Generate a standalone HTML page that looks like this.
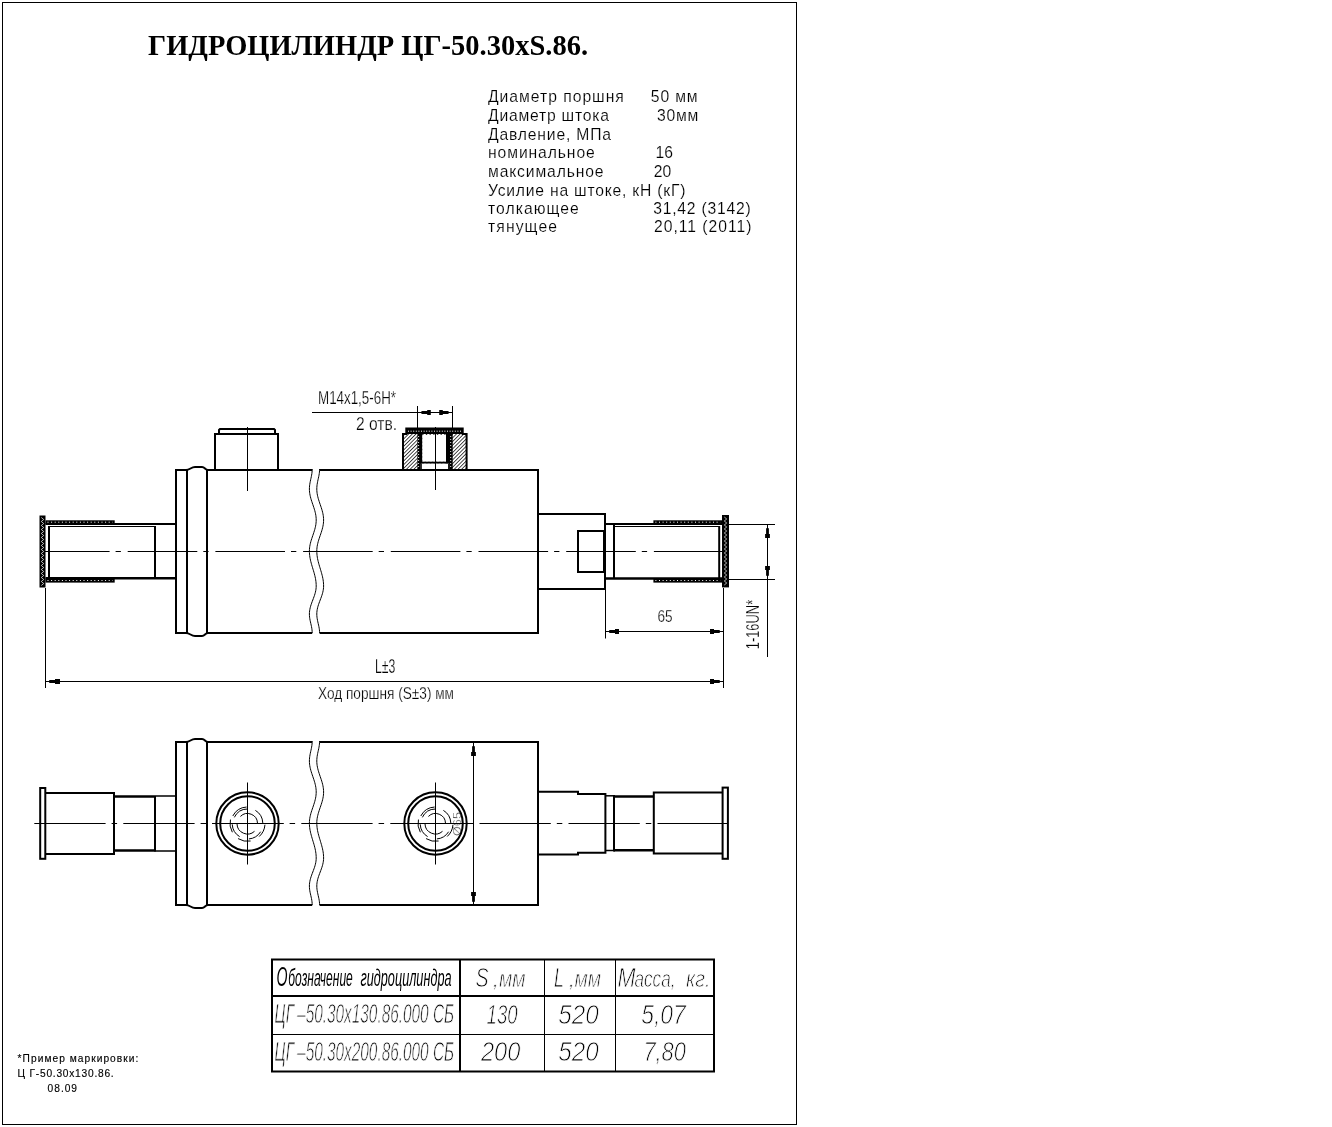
<!DOCTYPE html>
<html><head><meta charset="utf-8"><title>ГИДРОЦИЛИНДР ЦГ-50.30xS.86</title>
<style>
html,body{margin:0;padding:0;background:#fff;}
body{width:1332px;height:1127px;overflow:hidden;}
svg{display:block;will-change:transform;}
text{stroke:none;fill:#000;}
.ti{font-family:"Liberation Serif",serif;font-weight:bold;}
.sp{font-family:"Liberation Sans",sans-serif;stroke:#fff;stroke-width:0.15px;}
.fn{font-family:"Liberation Sans",sans-serif;stroke:#000;stroke-width:0.15px;}
.g{font-family:"Liberation Sans",sans-serif;fill:#000;stroke:#fff;stroke-width:0.25px;}
.it{font-family:"Liberation Sans",sans-serif;font-style:italic;fill:#000;stroke:#fff;stroke-width:0.9px;}
.ith{font-family:"Liberation Sans",sans-serif;font-style:italic;fill:#000;}
</style></head>
<body>
<svg width="1332" height="1127" viewBox="0 0 1332 1127" stroke="#000" fill="none" stroke-linecap="butt">
<defs>
<pattern id="hatch" width="2.6" height="2.6" patternUnits="userSpaceOnUse" patternTransform="rotate(45)">
<rect width="2.6" height="2.6" fill="#fff" stroke="none"/><line x1="0" y1="0" x2="0" y2="2.6" stroke="#000" stroke-width="1.4"/>
</pattern>
</defs>
<rect x="2.5" y="2.5" width="794" height="1122" stroke-width="1" fill="none" />
<text x="148" y="54.7" font-size="29" class="ti" textLength="440" lengthAdjust="spacingAndGlyphs" >ГИДРОЦИЛИНДР ЦГ-50.30xS.86.</text>
<text x="488" y="102.3" font-size="15.7" class="sp" textLength="135.8" lengthAdjust="spacing" >Диаметр поршня</text>
<text x="488" y="121.3" font-size="15.7" class="sp" textLength="121" lengthAdjust="spacing" >Диаметр штока</text>
<text x="488" y="140.2" font-size="15.7" class="sp" textLength="123" lengthAdjust="spacing" >Давление, МПа</text>
<text x="488" y="158.3" font-size="15.7" class="sp" textLength="106.8" lengthAdjust="spacing" >номинальное</text>
<text x="488" y="177.3" font-size="15.7" class="sp" textLength="115.5" lengthAdjust="spacing" >максимальное</text>
<text x="488" y="195.7" font-size="15.7" class="sp" textLength="197.4" lengthAdjust="spacing" >Усилие на штоке, кН (кГ)</text>
<text x="488" y="214.0" font-size="15.7" class="sp" textLength="90.7" lengthAdjust="spacing" >толкающее</text>
<text x="488" y="231.9" font-size="15.7" class="sp" textLength="69" lengthAdjust="spacing" >тянущее</text>
<text x="650.8" y="102.3" font-size="15.7" class="sp" textLength="46.8" lengthAdjust="spacing" >50 мм</text>
<text x="657" y="121.3" font-size="15.7" class="sp" textLength="41.3" lengthAdjust="spacing" >30мм</text>
<text x="655.5" y="158.3" font-size="15.7" class="sp" >16</text>
<text x="653.8" y="177.3" font-size="15.7" class="sp" >20</text>
<text x="653.2" y="214.0" font-size="15.7" class="sp" textLength="97.5" lengthAdjust="spacing" >31,42 (3142)</text>
<text x="654" y="231.9" font-size="15.7" class="sp" textLength="97.5" lengthAdjust="spacing" >20,11 (2011)</text>
<line x1="40" y1="551.5" x2="724" y2="551.5" stroke-width="1" stroke-dasharray="69.6 6 5.3 6.8"/>
<rect x="39.5" y="515.5" width="6" height="72" stroke-width="0" fill="#000" stroke="none"/>
<path d="M41.3,517.5 L43.7,519.5 L41.3,521.5 L43.7,523.5 L41.3,525.5 L43.7,527.5 L41.3,529.5 L43.7,531.5 L41.3,533.5 L43.7,535.5 L41.3,537.5 L43.7,539.5 L41.3,541.5 L43.7,543.5 L41.3,545.5 L43.7,547.5 L41.3,549.5 L43.7,551.5 L41.3,553.5 L43.7,555.5 L41.3,557.5 L43.7,559.5 L41.3,561.5 L43.7,563.5 L41.3,565.5 L43.7,567.5 L41.3,569.5 L43.7,571.5 L41.3,573.5 L43.7,575.5 L41.3,577.5 L43.7,579.5 L41.3,581.5 L43.7,583.5 L41.3,585.5" stroke-width="0.7" fill="none" stroke="#fff"/>
<rect x="722" y="515" width="7" height="72.4" stroke-width="0" fill="#000" stroke="none"/>
<path d="M724.3,517.0 L726.7,519.0 L724.3,521.0 L726.7,523.0 L724.3,525.0 L726.7,527.0 L724.3,529.0 L726.7,531.0 L724.3,533.0 L726.7,535.0 L724.3,537.0 L726.7,539.0 L724.3,541.0 L726.7,543.0 L724.3,545.0 L726.7,547.0 L724.3,549.0 L726.7,551.0 L724.3,553.0 L726.7,555.0 L724.3,557.0 L726.7,559.0 L724.3,561.0 L726.7,563.0 L724.3,565.0 L726.7,567.0 L724.3,569.0 L726.7,571.0 L724.3,573.0 L726.7,575.0 L724.3,577.0 L726.7,579.0 L724.3,581.0 L726.7,583.0 L724.3,585.0" stroke-width="0.7" fill="none" stroke="#fff"/>
<rect x="45.5" y="520.3" width="69.2" height="3.8" stroke-width="0" fill="#000" stroke="none"/>
<rect x="45.5" y="578.5" width="69.2" height="4.1" stroke-width="0" fill="#000" stroke="none"/>
<line x1="47.5" y1="522.2" x2="112.7" y2="522.2" stroke-width="1" stroke="#fff" stroke-dasharray="1 2.6"/>
<line x1="47.5" y1="580.5" x2="112.7" y2="580.5" stroke-width="1" stroke="#fff" stroke-dasharray="1 2.6"/>
<rect x="653.4" y="520.3" width="68.89999999999998" height="3.8" stroke-width="0" fill="#000" stroke="none"/>
<rect x="653.4" y="578.5" width="68.89999999999998" height="4.1" stroke-width="0" fill="#000" stroke="none"/>
<line x1="655.4" y1="522.2" x2="720.3" y2="522.2" stroke-width="1" stroke="#fff" stroke-dasharray="1 2.6"/>
<line x1="655.4" y1="580.5" x2="720.3" y2="580.5" stroke-width="1" stroke="#fff" stroke-dasharray="1 2.6"/>
<line x1="45.5" y1="524" x2="176" y2="524" stroke-width="2" />
<line x1="45.5" y1="578.3" x2="176" y2="578.3" stroke-width="2.4" />
<line x1="48.6" y1="526.5" x2="155" y2="526.5" stroke-width="1" />
<line x1="49" y1="526" x2="49" y2="578" stroke-width="2" />
<line x1="155" y1="526" x2="155" y2="578" stroke-width="2" />
<line x1="605" y1="524" x2="722.3" y2="524" stroke-width="2" />
<line x1="605" y1="578.5" x2="722.3" y2="578.5" stroke-width="2.4" />
<line x1="614" y1="526.5" x2="719.2" y2="526.5" stroke-width="1" />
<line x1="614" y1="525" x2="614" y2="578" stroke-width="2" />
<line x1="719.2" y1="526" x2="719.2" y2="578" stroke-width="2" />
<rect x="538" y="514" width="67" height="75" stroke-width="2" fill="none" />
<rect x="578" y="531" width="26" height="41" stroke-width="2" fill="none" />
<line x1="176" y1="469" x2="176" y2="634" stroke-width="2" />
<line x1="187" y1="469" x2="187" y2="634" stroke-width="2" />
<line x1="207" y1="469" x2="207" y2="634" stroke-width="2" />
<line x1="175" y1="470" x2="187" y2="470" stroke-width="2" />
<line x1="175" y1="633" x2="187" y2="633" stroke-width="2" />
<path d="M186,470 C190,470 191,467 195,467 L202,467 C205,467 205,470 208,470" stroke-width="2" fill="none" />
<path d="M186,633 C190,633 191,636 195,636 L202,636 C205,636 205,633 208,633" stroke-width="2" fill="none" />
<line x1="207" y1="470" x2="312.2" y2="470" stroke-width="2" />
<line x1="319.6" y1="470" x2="539" y2="470" stroke-width="2" />
<line x1="207" y1="633" x2="312.2" y2="633" stroke-width="2" />
<line x1="319.6" y1="633" x2="539" y2="633" stroke-width="2" />
<line x1="538" y1="469" x2="538" y2="634" stroke-width="2" />
<path d="M312.20,469.00 L312.16,470.54 L312.04,472.08 L311.85,473.62 L311.60,475.15 L311.30,476.69 L310.97,478.23 L310.63,479.77 L310.30,481.31 L310.00,482.85 L309.75,484.38 L309.56,485.92 L309.44,487.46 L309.40,489.00 L309.44,490.55 L309.57,492.10 L309.77,493.65 L310.05,495.20 L310.40,496.75 L310.80,498.30 L311.26,499.85 L311.75,501.40 L312.27,502.95 L312.80,504.50 L313.33,506.05 L313.85,507.60 L314.34,509.15 L314.80,510.70 L315.20,512.25 L315.55,513.80 L315.83,515.35 L316.03,516.90 L316.16,518.45 L316.20,520.00 L316.16,521.55 L316.03,523.10 L315.83,524.65 L315.55,526.20 L315.20,527.75 L314.80,529.30 L314.34,530.85 L313.85,532.40 L313.33,533.95 L312.80,535.50 L312.27,537.05 L311.75,538.60 L311.26,540.15 L310.80,541.70 L310.40,543.25 L310.05,544.80 L309.77,546.35 L309.57,547.90 L309.44,549.45 L309.40,551.00 L309.43,552.52 L309.53,554.04 L309.68,555.57 L309.89,557.09 L310.16,558.61 L310.48,560.13 L310.84,561.65 L311.24,563.17 L311.66,564.70 L312.11,566.22 L312.57,567.74 L313.03,569.26 L313.49,570.78 L313.94,572.30 L314.36,573.83 L314.76,575.35 L315.12,576.87 L315.44,578.39 L315.71,579.91 L315.92,581.43 L316.07,582.96 L316.17,584.48 L316.20,586.00 L316.15,587.56 L315.99,589.11 L315.74,590.67 L315.40,592.22 L314.99,593.78 L314.50,595.33 L313.96,596.89 L313.39,598.44 L312.80,600.00 L312.21,601.56 L311.64,603.11 L311.10,604.67 L310.61,606.22 L310.20,607.78 L309.86,609.33 L309.61,610.89 L309.45,612.44 L309.40,614.00 L309.45,615.58 L309.59,617.17 L309.81,618.75 L310.10,620.33 L310.44,621.92 L310.80,623.50 L311.16,625.08 L311.50,626.67 L311.79,628.25 L312.01,629.83 L312.15,631.42 L312.20,633.00" stroke-width="1" fill="none" />
<path d="M319.60,469.00 L319.56,470.54 L319.44,472.08 L319.25,473.62 L319.00,475.15 L318.70,476.69 L318.37,478.23 L318.03,479.77 L317.70,481.31 L317.40,482.85 L317.15,484.38 L316.96,485.92 L316.84,487.46 L316.80,489.00 L316.84,490.55 L316.97,492.10 L317.17,493.65 L317.45,495.20 L317.80,496.75 L318.20,498.30 L318.66,499.85 L319.15,501.40 L319.67,502.95 L320.20,504.50 L320.73,506.05 L321.25,507.60 L321.74,509.15 L322.20,510.70 L322.60,512.25 L322.95,513.80 L323.23,515.35 L323.43,516.90 L323.56,518.45 L323.60,520.00 L323.56,521.55 L323.43,523.10 L323.23,524.65 L322.95,526.20 L322.60,527.75 L322.20,529.30 L321.74,530.85 L321.25,532.40 L320.73,533.95 L320.20,535.50 L319.67,537.05 L319.15,538.60 L318.66,540.15 L318.20,541.70 L317.80,543.25 L317.45,544.80 L317.17,546.35 L316.97,547.90 L316.84,549.45 L316.80,551.00 L316.83,552.52 L316.93,554.04 L317.08,555.57 L317.29,557.09 L317.56,558.61 L317.88,560.13 L318.24,561.65 L318.64,563.17 L319.06,564.70 L319.51,566.22 L319.97,567.74 L320.43,569.26 L320.89,570.78 L321.34,572.30 L321.76,573.83 L322.16,575.35 L322.52,576.87 L322.84,578.39 L323.11,579.91 L323.32,581.43 L323.47,582.96 L323.57,584.48 L323.60,586.00 L323.55,587.56 L323.39,589.11 L323.14,590.67 L322.80,592.22 L322.39,593.78 L321.90,595.33 L321.36,596.89 L320.79,598.44 L320.20,600.00 L319.61,601.56 L319.04,603.11 L318.50,604.67 L318.01,606.22 L317.60,607.78 L317.26,609.33 L317.01,610.89 L316.85,612.44 L316.80,614.00 L316.85,615.58 L316.99,617.17 L317.21,618.75 L317.50,620.33 L317.84,621.92 L318.20,623.50 L318.56,625.08 L318.90,626.67 L319.19,628.25 L319.41,629.83 L319.55,631.42 L319.60,633.00" stroke-width="1" fill="none" />
<path d="M215,470 V434 H278 V470" stroke-width="2" fill="none" />
<path d="M219,434 V430 L220,429 H274 L275,430 V434" stroke-width="2" fill="none" />
<line x1="247.5" y1="427" x2="247.5" y2="491" stroke-width="1" />
<path d="M403,469 V434 H406.3 V428.5 H462.7 V434 H466.6 V469" fill="url(#hatch)" stroke="none"/>
<rect x="406.3" y="428.5" width="56.4" height="5.5" stroke-width="0" fill="#000" stroke="none"/>
<line x1="408" y1="431.2" x2="461" y2="431.2" stroke-width="1" stroke="#fff" stroke-dasharray="1 1.6"/>
<rect x="417.4" y="434" width="5" height="35" stroke-width="0" fill="#000" stroke="none"/>
<rect x="446" y="434" width="6.7" height="35" stroke-width="0" fill="#000" stroke="none"/>
<line x1="418.6" y1="436" x2="418.6" y2="468" stroke-width="0.9" stroke="#fff" stroke-dasharray="1 2"/>
<line x1="450.7" y1="436" x2="450.7" y2="468" stroke-width="0.9" stroke="#fff" stroke-dasharray="1 2"/>
<rect x="422.4" y="435" width="23.6" height="26.7" stroke-width="0" fill="#fff" stroke="none"/>
<rect x="420.8" y="461.7" width="28.3" height="2" stroke-width="0" fill="#000" stroke="none"/>
<rect x="420.8" y="463.7" width="28.3" height="5.3" stroke-width="0" fill="#fff" stroke="none"/>
<line x1="421.3" y1="463.7" x2="421.3" y2="469" stroke-width="1" />
<line x1="448.6" y1="463.7" x2="448.6" y2="469" stroke-width="1" />
<path d="M403,470 V434 H406.3 V428.5 H462.7 V434 H466.6 V470" stroke-width="2" fill="none" />
<line x1="435.5" y1="427" x2="435.5" y2="490" stroke-width="1" />
<line x1="312" y1="412.5" x2="453" y2="412.5" stroke-width="1" />
<line x1="417.5" y1="406" x2="417.5" y2="428" stroke-width="1" />
<line x1="452.5" y1="406" x2="452.5" y2="428" stroke-width="1" />
<polygon points="421.20,411.50 422.20,411.10 427.20,411.10 427.20,410.10 430.80,410.10 430.80,414.90 427.20,414.90 427.20,413.90 422.20,413.90 421.20,413.50" fill="#000" stroke="none"/>
<polygon points="448.80,413.50 447.80,413.90 442.80,413.90 442.80,414.90 439.20,414.90 439.20,410.10 442.80,410.10 442.80,411.10 447.80,411.10 448.80,411.50" fill="#000" stroke="none"/>
<text x="318" y="403.6" font-size="18.6" class="g" textLength="78" lengthAdjust="spacingAndGlyphs" >M14x1,5-6H*</text>
<text x="356" y="429.7" font-size="18.6" class="g" textLength="41" lengthAdjust="spacingAndGlyphs" >2 отв.</text>
<line x1="605.5" y1="590" x2="605.5" y2="638.5" stroke-width="1" />
<line x1="723.5" y1="588" x2="723.5" y2="688" stroke-width="1" />
<line x1="605.5" y1="631.5" x2="724" y2="631.5" stroke-width="1" />
<polygon points="609.00,630.50 610.00,630.10 615.00,630.10 615.00,629.10 619.00,629.10 619.00,633.90 615.00,633.90 615.00,632.90 610.00,632.90 609.00,632.50" fill="#000" stroke="none"/>
<polygon points="720.00,632.50 719.00,632.90 714.00,632.90 714.00,633.90 710.00,633.90 710.00,629.10 714.00,629.10 714.00,630.10 719.00,630.10 720.00,630.50" fill="#000" stroke="none"/>
<text x="657.4" y="622.4" font-size="17.4" class="g" textLength="15.1" lengthAdjust="spacingAndGlyphs" >65</text>
<line x1="729" y1="524.5" x2="775" y2="524.5" stroke-width="1" />
<line x1="729" y1="579.5" x2="775" y2="579.5" stroke-width="1" />
<line x1="767.5" y1="524.5" x2="767.5" y2="657" stroke-width="1" />
<polygon points="768.50,528.00 768.90,529.00 768.90,534.00 769.90,534.00 769.90,538.00 765.10,538.00 765.10,534.00 766.10,534.00 766.10,529.00 766.50,528.00" fill="#000" stroke="none"/>
<polygon points="766.50,576.00 766.10,575.00 766.10,570.00 765.10,570.00 765.10,566.00 769.90,566.00 769.90,570.00 768.90,570.00 768.90,575.00 768.50,576.00" fill="#000" stroke="none"/>
<text x="0" y="0" font-size="18.6" class="g" textLength="49.5" lengthAdjust="spacingAndGlyphs" transform="translate(759,649.3) rotate(-90)">1-16UN*</text>
<line x1="45.5" y1="588" x2="45.5" y2="688" stroke-width="1" />
<line x1="45.5" y1="681.5" x2="724" y2="681.5" stroke-width="1" />
<polygon points="49.00,680.50 50.00,680.10 55.00,680.10 55.00,679.10 60.00,679.10 60.00,683.90 55.00,683.90 55.00,682.90 50.00,682.90 49.00,682.50" fill="#000" stroke="none"/>
<polygon points="720.00,682.50 719.00,682.90 714.00,682.90 714.00,683.90 710.00,683.90 710.00,679.10 714.00,679.10 714.00,680.10 719.00,680.10 720.00,680.50" fill="#000" stroke="none"/>
<text x="375" y="672.7" font-size="19.6" class="g" textLength="20.3" lengthAdjust="spacingAndGlyphs" >L±3</text>
<text x="318" y="699" font-size="16.7" class="g" textLength="136" lengthAdjust="spacingAndGlyphs" >Ход поршня (S±3) мм</text>
<line x1="34.3" y1="823.5" x2="473.5" y2="823.5" stroke-width="1" stroke-dasharray="71.3 6 5.5 6.2"/>
<line x1="479.5" y1="823.5" x2="728" y2="823.5" stroke-width="1" stroke-dasharray="71.3 6 5.5 6.2" stroke-dashoffset="0"/>
<line x1="176" y1="741" x2="176" y2="906" stroke-width="2" />
<line x1="187" y1="741" x2="187" y2="906" stroke-width="2" />
<line x1="207" y1="741" x2="207" y2="906" stroke-width="2" />
<line x1="175" y1="742" x2="187" y2="742" stroke-width="2" />
<line x1="175" y1="905" x2="187" y2="905" stroke-width="2" />
<path d="M186,742 C190,742 191,739 195,739 L202,739 C205,739 205,742 208,742" stroke-width="2" fill="none" />
<path d="M186,905 C190,905 191,908 195,908 L202,908 C205,908 205,905 208,905" stroke-width="2" fill="none" />
<line x1="207" y1="742" x2="312.2" y2="742" stroke-width="2" />
<line x1="319.6" y1="742" x2="539" y2="742" stroke-width="2" />
<line x1="207" y1="905" x2="312.2" y2="905" stroke-width="2" />
<line x1="319.6" y1="905" x2="539" y2="905" stroke-width="2" />
<line x1="538" y1="741" x2="538" y2="906" stroke-width="2" />
<path d="M312.20,741.00 L312.16,742.54 L312.04,744.08 L311.85,745.62 L311.60,747.15 L311.30,748.69 L310.97,750.23 L310.63,751.77 L310.30,753.31 L310.00,754.85 L309.75,756.38 L309.56,757.92 L309.44,759.46 L309.40,761.00 L309.44,762.55 L309.57,764.10 L309.77,765.65 L310.05,767.20 L310.40,768.75 L310.80,770.30 L311.26,771.85 L311.75,773.40 L312.27,774.95 L312.80,776.50 L313.33,778.05 L313.85,779.60 L314.34,781.15 L314.80,782.70 L315.20,784.25 L315.55,785.80 L315.83,787.35 L316.03,788.90 L316.16,790.45 L316.20,792.00 L316.16,793.55 L316.03,795.10 L315.83,796.65 L315.55,798.20 L315.20,799.75 L314.80,801.30 L314.34,802.85 L313.85,804.40 L313.33,805.95 L312.80,807.50 L312.27,809.05 L311.75,810.60 L311.26,812.15 L310.80,813.70 L310.40,815.25 L310.05,816.80 L309.77,818.35 L309.57,819.90 L309.44,821.45 L309.40,823.00 L309.43,824.52 L309.53,826.04 L309.68,827.57 L309.89,829.09 L310.16,830.61 L310.48,832.13 L310.84,833.65 L311.24,835.17 L311.66,836.70 L312.11,838.22 L312.57,839.74 L313.03,841.26 L313.49,842.78 L313.94,844.30 L314.36,845.83 L314.76,847.35 L315.12,848.87 L315.44,850.39 L315.71,851.91 L315.92,853.43 L316.07,854.96 L316.17,856.48 L316.20,858.00 L316.15,859.56 L315.99,861.11 L315.74,862.67 L315.40,864.22 L314.99,865.78 L314.50,867.33 L313.96,868.89 L313.39,870.44 L312.80,872.00 L312.21,873.56 L311.64,875.11 L311.10,876.67 L310.61,878.22 L310.20,879.78 L309.86,881.33 L309.61,882.89 L309.45,884.44 L309.40,886.00 L309.45,887.58 L309.59,889.17 L309.81,890.75 L310.10,892.33 L310.44,893.92 L310.80,895.50 L311.16,897.08 L311.50,898.67 L311.79,900.25 L312.01,901.83 L312.15,903.42 L312.20,905.00" stroke-width="1" fill="none" />
<path d="M319.60,741.00 L319.56,742.54 L319.44,744.08 L319.25,745.62 L319.00,747.15 L318.70,748.69 L318.37,750.23 L318.03,751.77 L317.70,753.31 L317.40,754.85 L317.15,756.38 L316.96,757.92 L316.84,759.46 L316.80,761.00 L316.84,762.55 L316.97,764.10 L317.17,765.65 L317.45,767.20 L317.80,768.75 L318.20,770.30 L318.66,771.85 L319.15,773.40 L319.67,774.95 L320.20,776.50 L320.73,778.05 L321.25,779.60 L321.74,781.15 L322.20,782.70 L322.60,784.25 L322.95,785.80 L323.23,787.35 L323.43,788.90 L323.56,790.45 L323.60,792.00 L323.56,793.55 L323.43,795.10 L323.23,796.65 L322.95,798.20 L322.60,799.75 L322.20,801.30 L321.74,802.85 L321.25,804.40 L320.73,805.95 L320.20,807.50 L319.67,809.05 L319.15,810.60 L318.66,812.15 L318.20,813.70 L317.80,815.25 L317.45,816.80 L317.17,818.35 L316.97,819.90 L316.84,821.45 L316.80,823.00 L316.83,824.52 L316.93,826.04 L317.08,827.57 L317.29,829.09 L317.56,830.61 L317.88,832.13 L318.24,833.65 L318.64,835.17 L319.06,836.70 L319.51,838.22 L319.97,839.74 L320.43,841.26 L320.89,842.78 L321.34,844.30 L321.76,845.83 L322.16,847.35 L322.52,848.87 L322.84,850.39 L323.11,851.91 L323.32,853.43 L323.47,854.96 L323.57,856.48 L323.60,858.00 L323.55,859.56 L323.39,861.11 L323.14,862.67 L322.80,864.22 L322.39,865.78 L321.90,867.33 L321.36,868.89 L320.79,870.44 L320.20,872.00 L319.61,873.56 L319.04,875.11 L318.50,876.67 L318.01,878.22 L317.60,879.78 L317.26,881.33 L317.01,882.89 L316.85,884.44 L316.80,886.00 L316.85,887.58 L316.99,889.17 L317.21,890.75 L317.50,892.33 L317.84,893.92 L318.20,895.50 L318.56,897.08 L318.90,898.67 L319.19,900.25 L319.41,901.83 L319.55,903.42 L319.60,905.00" stroke-width="1" fill="none" />
<rect x="40.2" y="788" width="5.1" height="70.8" stroke-width="2" fill="none" />
<path d="M45.3,793 H114 V854 H45.3" stroke-width="2" fill="none" />
<line x1="114" y1="796.5" x2="155" y2="796.5" stroke-width="2.5" />
<line x1="114" y1="850.4" x2="155" y2="850.4" stroke-width="2.5" />
<line x1="155" y1="796" x2="176" y2="796" stroke-width="1.5" />
<line x1="155" y1="851" x2="176" y2="851" stroke-width="1.5" />
<line x1="155" y1="796" x2="155" y2="851.5" stroke-width="2" />
<path d="M538,791.8 H578 V794 H605.4 V852.8 H578 V854.4 H538" stroke-width="2" fill="none" />
<line x1="605.4" y1="795.8" x2="614" y2="795.8" stroke-width="1.5" />
<line x1="605.4" y1="850.5" x2="614" y2="850.5" stroke-width="1.5" />
<line x1="614" y1="795" x2="614" y2="851.5" stroke-width="2" />
<line x1="614" y1="796.5" x2="653.8" y2="796.5" stroke-width="2.5" />
<line x1="614" y1="850.2" x2="653.8" y2="850.2" stroke-width="2.5" />
<path d="M653.8,792.6 H722.6 M653.8,853.6 H722.6 M653.8,791.6 V854.6" stroke-width="2" fill="none" />
<rect x="722.6" y="787.6" width="5.3" height="71.2" stroke-width="2" fill="none" />
<text x="0" y="0" font-size="11.5" class="g" textLength="24" lengthAdjust="spacingAndGlyphs" transform="translate(460.5,836) rotate(-90)" style="fill:#444">Ø65</text>
<circle cx="247.5" cy="823.5" r="31.2" stroke-width="2" fill="none"/>
<circle cx="247.5" cy="823.5" r="27.3" stroke-width="2" fill="none"/>
<line x1="247.5" y1="782.5" x2="247.5" y2="864.5" stroke-width="1" />
<line x1="212.0" y1="823.5" x2="283.5" y2="823.5" stroke-width="1" />
<path d="M240.43,816.43 A10,10 0 0 1 257.49,823.15 M254.53,831.30 A10.5,10.5 0 0 1 237.01,823.87 M232.34,832.25 A17.5,17.5 0 0 1 230.45,819.56 M264.96,824.72 A17.5,17.5 0 0 1 259.21,836.51 M250.59,841.03 A17.8,17.8 0 0 1 238.07,838.60 M232.80,816.01 A16.5,16.5 0 0 1 246.64,807.02 M239.62,836.61 A15.3,15.3 0 0 1 232.22,824.30 M255.38,810.39 A15.3,15.3 0 0 1 262.79,822.97 M260.64,831.71 A15.5,15.5 0 0 1 248.85,838.94 M234.36,817.37 A14.5,14.5 0 0 1 247.50,809.00" stroke-width="1" fill="none" />
<circle cx="435.5" cy="823.5" r="31.2" stroke-width="2" fill="none"/>
<circle cx="435.5" cy="823.5" r="27.3" stroke-width="2" fill="none"/>
<line x1="435.5" y1="782.5" x2="435.5" y2="864.5" stroke-width="1" />
<line x1="400.0" y1="823.5" x2="471.5" y2="823.5" stroke-width="1" />
<path d="M428.43,816.43 A10,10 0 0 1 445.49,823.15 M442.53,831.30 A10.5,10.5 0 0 1 425.01,823.87 M420.34,832.25 A17.5,17.5 0 0 1 418.45,819.56 M452.96,824.72 A17.5,17.5 0 0 1 447.21,836.51 M438.59,841.03 A17.8,17.8 0 0 1 426.07,838.60 M420.80,816.01 A16.5,16.5 0 0 1 434.64,807.02 M427.62,836.61 A15.3,15.3 0 0 1 420.22,824.30 M443.38,810.39 A15.3,15.3 0 0 1 450.79,822.97 M448.64,831.71 A15.5,15.5 0 0 1 436.85,838.94 M422.36,817.37 A14.5,14.5 0 0 1 435.50,809.00" stroke-width="1" fill="none" />
<line x1="473.5" y1="742" x2="473.5" y2="905" stroke-width="1" />
<polygon points="474.50,746.00 474.90,747.00 474.90,752.00 475.90,752.00 475.90,756.00 471.10,756.00 471.10,752.00 472.10,752.00 472.10,747.00 472.50,746.00" fill="#000" stroke="none"/>
<polygon points="472.50,902.00 472.10,901.00 472.10,896.00 471.10,896.00 471.10,892.00 475.90,892.00 475.90,896.00 474.90,896.00 474.90,901.00 474.50,902.00" fill="#000" stroke="none"/>
<rect x="272" y="959.5" width="442" height="112" stroke-width="2" fill="none" />
<line x1="272" y1="996" x2="714" y2="996" stroke-width="2" />
<line x1="272" y1="1034.5" x2="714" y2="1034.5" stroke-width="1" />
<line x1="460" y1="959.5" x2="460" y2="1071.5" stroke-width="2" />
<line x1="544.5" y1="959.5" x2="544.5" y2="1071.5" stroke-width="1" />
<line x1="615.5" y1="959.5" x2="615.5" y2="1071.5" stroke-width="1" />
<text x="276.5" y="986.4" font-size="28" class="ith" textLength="11" lengthAdjust="spacingAndGlyphs" >О</text>
<text x="288.3" y="986.4" font-size="24.5" class="ith" textLength="64.5" lengthAdjust="spacingAndGlyphs" >бозначение</text>
<text x="360.5" y="986.4" font-size="24.5" class="ith" textLength="91" lengthAdjust="spacingAndGlyphs" >гидроцилиндра</text>
<text x="475.5" y="986.8" font-size="28" class="it" textLength="13" lengthAdjust="spacingAndGlyphs" >S</text>
<text x="492.5" y="986.8" font-size="24.5" class="it" >,</text>
<text x="499" y="986.8" font-size="24.5" class="it" textLength="26.5" lengthAdjust="spacingAndGlyphs" >мм</text>
<text x="554" y="986.8" font-size="28" class="it" textLength="10" lengthAdjust="spacingAndGlyphs" >L</text>
<text x="568.5" y="986.8" font-size="24.5" class="it" >,</text>
<text x="574.5" y="986.8" font-size="24.5" class="it" textLength="26.5" lengthAdjust="spacingAndGlyphs" >мм</text>
<text x="617.5" y="986.8" font-size="28" class="it" textLength="18" lengthAdjust="spacingAndGlyphs" >М</text>
<text x="634.5" y="986.8" font-size="24.5" class="it" textLength="41" lengthAdjust="spacingAndGlyphs" >асса,</text>
<text x="686" y="986.8" font-size="24.5" class="it" textLength="24.5" lengthAdjust="spacingAndGlyphs" >кг.</text>
<text x="274.5" y="1023.3" font-size="28" class="it" textLength="179.5" lengthAdjust="spacingAndGlyphs" >ЦГ –50.30x130.86.000 СБ</text>
<text x="274.5" y="1061.1" font-size="28" class="it" textLength="179.5" lengthAdjust="spacingAndGlyphs" >ЦГ –50.30x200.86.000 СБ</text>
<text x="486.6" y="1023.6" font-size="28" class="it" textLength="31" lengthAdjust="spacingAndGlyphs" >130</text>
<text x="480.9" y="1061.4" font-size="28" class="it" textLength="39.5" lengthAdjust="spacingAndGlyphs" >200</text>
<text x="558.3" y="1023.6" font-size="28" class="it" textLength="40.5" lengthAdjust="spacingAndGlyphs" >520</text>
<text x="558.3" y="1061.4" font-size="28" class="it" textLength="40.5" lengthAdjust="spacingAndGlyphs" >520</text>
<text x="641.2" y="1023.6" font-size="28" class="it" textLength="44.5" lengthAdjust="spacingAndGlyphs" >5,07</text>
<text x="643.4" y="1061.4" font-size="28" class="it" textLength="42.5" lengthAdjust="spacingAndGlyphs" >7,80</text>
<text x="17.6" y="1062.2" font-size="10.2" class="fn" textLength="120.7" lengthAdjust="spacing" >*Пример маркировки:</text>
<text x="17.6" y="1076.6" font-size="10.2" class="fn" textLength="96.1" lengthAdjust="spacing" >Ц Г-50.30x130.86.</text>
<text x="47.6" y="1091.7" font-size="10.2" class="fn" textLength="29.4" lengthAdjust="spacing" >08.09</text>
</svg>
</body></html>
